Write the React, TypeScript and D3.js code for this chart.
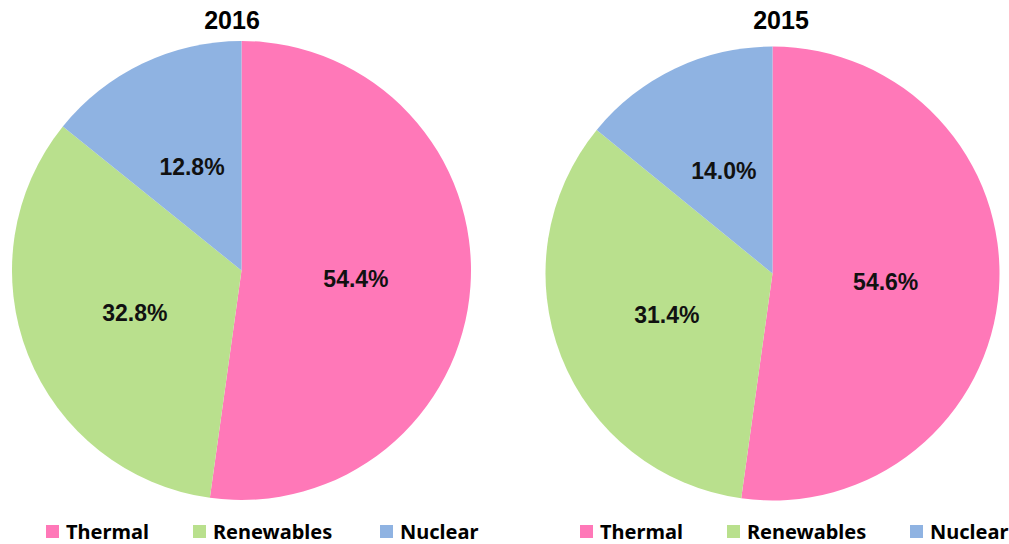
import React from "react";
import * as d3 from "d3";

const categories = ["Thermal", "Renewables", "Nuclear"];
const colors = ["#FF78B8", "#B9E08D", "#8FB3E2"];
const years = ["2016", "2015"];
// slice sizes as drawn in the picture (share of the circle, %)
const slices2016 = [52.2, 33.6, 14.2];
const slices2015 = [52.2, 33.7, 14.1];
// printed labels
const labels2016 = ["54.4%", "32.8%", "12.8%"];
const labels2015 = ["54.6%", "31.4%", "14.0%"];

const W = 1009;
const H = 544;

type PieProps = {
  cx: number;
  cy: number;
  r: number;
  values: number[];
  labels: string[];
  title: string;
  titleX: number;
  legendX: number[];
};

function Pie({ cx, cy, r, values, labels, title, titleX, legendX }: PieProps) {
  const pie = d3.pie<number>().sort(null).value((d) => d);
  const arcs = pie(values);
  const arc = d3.arc<d3.PieArcDatum<number>>().innerRadius(0).outerRadius(r);
  const labelArc = d3
    .arc<d3.PieArcDatum<number>>()
    .innerRadius(r * 0.5)
    .outerRadius(r * 0.5);
  return (
    <g>
      <text
        x={titleX}
        y={29}
        textAnchor="middle"
        fontFamily="Liberation Sans, Arial, sans-serif"
        fontWeight="bold"
        fontSize={25}
        fill="#000"
      >
        {title}
      </text>
      <g transform={`translate(${cx},${cy})`}>
        {arcs.map((a, i) => (
          <path key={i} d={arc(a) || ""} fill={colors[i]} />
        ))}
        {arcs.map((a, i) => {
          const [x, y] = labelArc.centroid(a);
          return (
            <text
              key={"l" + i}
              x={x}
              y={y}
              dy="0.36em"
              textAnchor="middle"
              fontFamily="Liberation Sans, Arial, sans-serif"
              fontWeight="bold"
              fontSize={23}
              fill="#111"
            >
              {labels[i]}
            </text>
          );
        })}
      </g>
      {categories.map((c, i) => (
        <g key={"lg" + i}>
          <rect x={legendX[i]} y={525} width={13} height={13} fill={colors[i]} />
          <text
            x={legendX[i] + 20}
            y={539}
            fontFamily="Noto Sans, Open Sans, sans-serif"
            fontWeight="bold"
            fontSize={20}
            fill="#000"
          >
            {c}
          </text>
        </g>
      ))}
    </g>
  );
}

export default function App() {
  return (
    <svg
      width={W}
      height={H}
      style={{ position: "absolute", left: 0, top: 0, background: "#fff" }}
    >
      <rect width={W} height={H} fill="#fff" />
      <Pie
        cx={241.5}
        cy={270.5}
        r={229.5}
        values={slices2016}
        labels={labels2016}
        title={years[0]}
        titleX={232}
        legendX={[46, 193, 380]}
      />
      <Pie
        cx={772.5}
        cy={273.5}
        r={227}
        values={slices2015}
        labels={labels2015}
        title={years[1]}
        titleX={781}
        legendX={[580, 727, 910]}
      />
    </svg>
  );
}
